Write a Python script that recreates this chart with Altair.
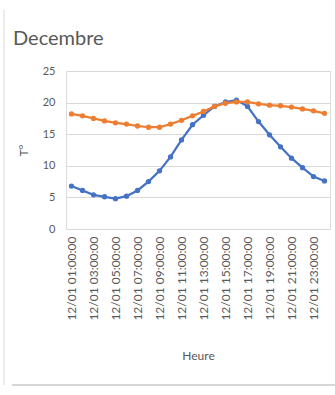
import altair as alt
import pandas as pd

# Hourly readings for one December day
hours = [f"12/01 {h:02d}:00:00" for h in range(1, 24)] + ["12/02 00:00:00"]
serie_1 = [6.8, 6.1, 5.4, 5.1, 4.8, 5.2, 6.1, 7.5, 9.2, 11.4, 14.1, 16.5,
           18.0, 19.4, 20.1, 20.4, 19.4, 17.0, 14.9, 13.0, 11.2, 9.7, 8.3, 7.6]
serie_2 = [18.2, 17.9, 17.5, 17.1, 16.8, 16.6, 16.3, 16.1, 16.1, 16.6, 17.2, 17.9,
           18.6, 19.4, 19.9, 20.1, 20.1, 19.8, 19.6, 19.5, 19.3, 19.0, 18.7, 18.3]
series_names = ["Série1", "Série2"]
series_colors = ["#4472C4", "#ED7D31"]
y_ticks = [0, 5, 10, 15, 20, 25]
chart_title = "Decembre"

rows = []
for name, vals in zip(series_names, [serie_1, serie_2]):
    for i, (h, v) in enumerate(zip(hours, vals)):
        rows.append({"Heure": h, "T": v, "serie": name, "ordre": i})
df = pd.DataFrame(rows)

GRAY = "#595959"
FONT = "Lato"

x_enc = alt.X(
    "Heure:N",
    sort=hours,
    scale=alt.Scale(type="point", padding=0.5),
    axis=alt.Axis(
        values=hours[::2],
        labelAngle=270,
        labelAlign="right",
        labelBaseline="middle",
        labelFontSize=12,
        labelColor=GRAY,
        labelFont=FONT,
        labelPadding=7,
        ticks=False,
        grid=False,
        domainColor="#D9D9D9",
        domainWidth=1,
        title="Heure",
        titleFont=FONT,
        titleFontSize=12,
        titleFontWeight="normal",
        titleColor=GRAY,
        titlePadding=30,
    ),
)
y_enc = alt.Y(
    "T:Q",
    scale=alt.Scale(domain=[0, 25], nice=False),
    axis=alt.Axis(
        values=y_ticks,
        labelFontSize=11,
        labelColor=GRAY,
        labelFont=FONT,
        labelPadding=11,
        ticks=False,
        domain=False,
        gridColor="#D9D9D9",
        gridWidth=1,
        title="T°",
        titleFont=FONT,
        titleFontSize=12,
        titleFontWeight="normal",
        titleColor=GRAY,
        titlePadding=12,
    ),
)
color_enc = alt.Color(
    "serie:N",
    scale=alt.Scale(domain=series_names, range=series_colors),
    legend=None,
)

base = alt.Chart(df).encode(x=x_enc, y=y_enc, color=color_enc, order="ordre:Q")
lines = base.mark_line(strokeWidth=2.25)
points = base.mark_point(filled=True, size=28, shape="circle", opacity=1)

one_row = pd.DataFrame({"a": [0]})

# chart title, top-left of the chart area
title_text = alt.Chart(one_row).mark_text(
    text=chart_title, align="left", baseline="alphabetic",
    font=FONT, fontSize=20, color=GRAY,
).encode(x=alt.value(-53), y=alt.value(-26))

# outer chart frame (left and bottom edges)
frame_left = alt.Chart(one_row).mark_rule(
    color="#D9D9D9", strokeWidth=1
).encode(x=alt.value(-62), y=alt.value(-61), y2=alt.value(314))
frame_bottom = alt.Chart(one_row).mark_rule(
    color="#C8C8C8", strokeWidth=1.5
).encode(x=alt.value(-54), x2=alt.value(269), y=alt.value(314))

chart = alt.layer(frame_left, frame_bottom, title_text, lines, points).properties(
    width=264,
    height=158,
    autosize=alt.AutoSizeParams(type="none"),
    padding={"left": 66, "top": 71, "right": 5, "bottom": 166},
).configure_view(stroke=None).configure(background="white")

chart.save("out.html", embed_options={"renderer": "svg", "actions": False})
